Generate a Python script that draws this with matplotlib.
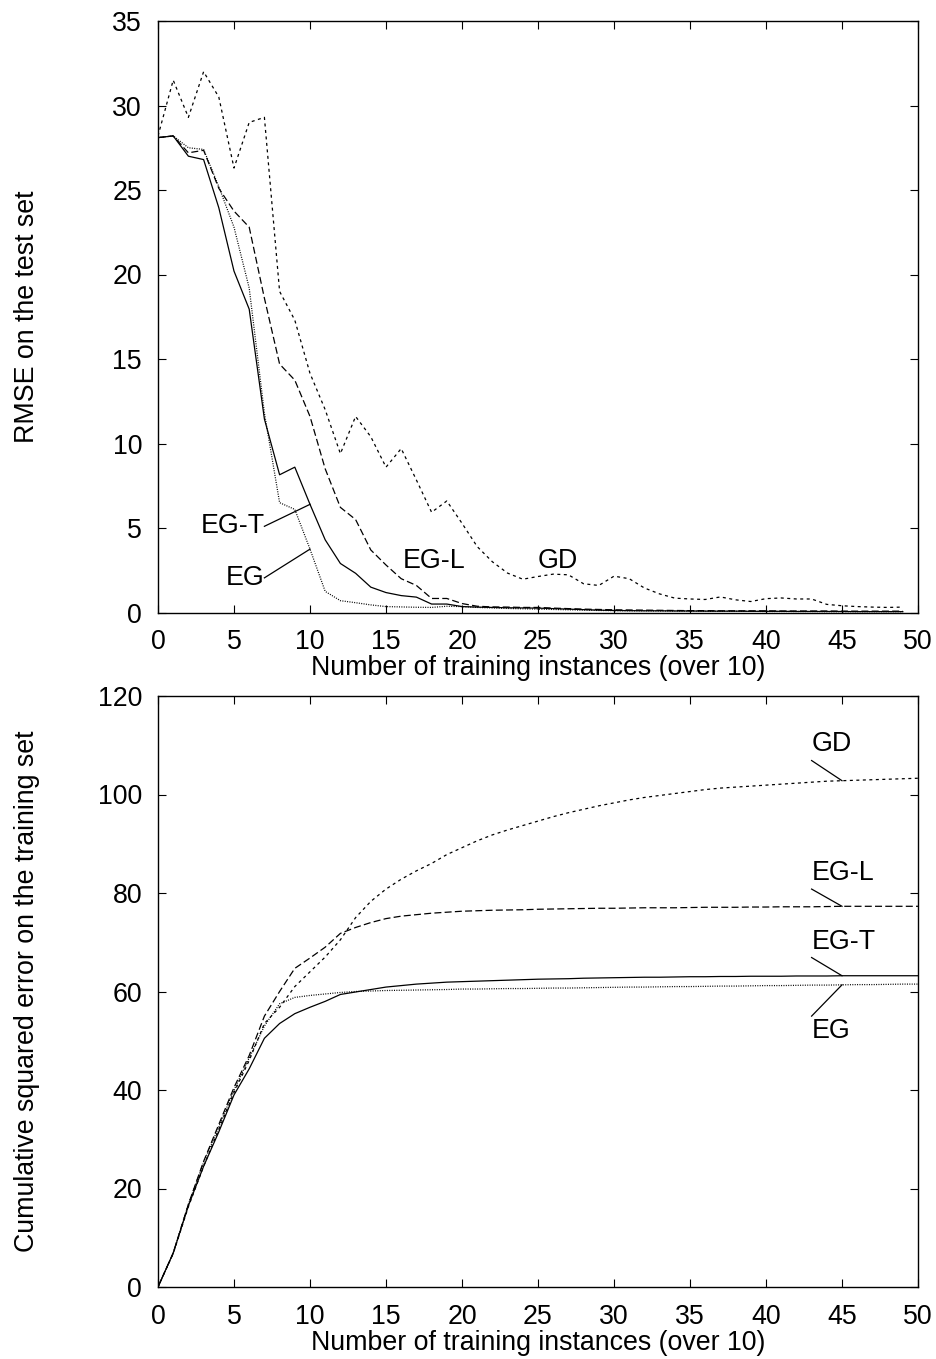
import numpy as np
import matplotlib.pyplot as plt

plt.rcParams['font.family'] = ['Liberation Sans', 'DejaVu Sans']

# top panel: RMSE on the test set, x = 0..49
x_top = np.arange(50)
rmse_egt = [28.1, 28.2, 27.0, 26.8, 23.95, 20.2, 17.95, 11.45, 8.15, 8.6,
            6.4, 4.3, 2.9, 2.32, 1.5, 1.18, 1.0, 0.91, 0.5, 0.5,
            0.35, 0.32, 0.3, 0.28, 0.27, 0.26, 0.23, 0.2, 0.17, 0.14,
            0.12, 0.11, 0.1, 0.1, 0.09, 0.09, 0.08, 0.08, 0.08, 0.07,
            0.07, 0.07, 0.06, 0.06, 0.06, 0.06, 0.05, 0.05, 0.05, 0.05]
rmse_eg = [28.1, 28.2, 27.5, 27.4, 25.2, 22.8, 19.2, 11.8, 6.5, 6.1,
           3.75, 1.25, 0.7, 0.58, 0.45, 0.35, 0.33, 0.31, 0.3, 0.37,
           0.35, 0.3, 0.27, 0.24, 0.22, 0.2, 0.18, 0.16, 0.14, 0.12,
           0.11, 0.1, 0.1, 0.09, 0.09, 0.08, 0.08, 0.07, 0.07, 0.07,
           0.06, 0.06, 0.06, 0.06, 0.05, 0.05, 0.05, 0.05, 0.05, 0.05]
rmse_egl = [28.1, 28.2, 27.2, 27.35, 25.1, 23.75, 22.8, 18.6, 14.7, 13.75,
            11.6, 8.5, 6.22, 5.5, 3.7, 2.81, 2.0, 1.6, 0.83, 0.83,
            0.53, 0.37, 0.33, 0.32, 0.3, 0.3, 0.26, 0.23, 0.2, 0.18,
            0.16, 0.15, 0.14, 0.13, 0.12, 0.11, 0.11, 0.1, 0.1, 0.1,
            0.1, 0.09, 0.09, 0.09, 0.09, 0.08, 0.08, 0.08, 0.08, 0.08]
rmse_gd = [28.2, 31.5, 29.3, 32.0, 30.5, 26.3, 29.0, 29.3, 19.0, 17.3,
           14.15, 12.0, 9.4, 11.6, 10.4, 8.6, 9.7, 7.84, 5.93, 6.6,
           5.28, 3.9, 3.0, 2.33, 1.97, 2.13, 2.27, 2.23, 1.7, 1.6,
           2.15, 2.0, 1.45, 1.1, 0.85, 0.8, 0.77, 0.92, 0.75, 0.65,
           0.82, 0.86, 0.8, 0.8, 0.48, 0.4, 0.35, 0.32, 0.3, 0.32]

# bottom panel: cumulative squared error on the training set, x = 0..50
x_bot = np.arange(51)
cum_egt = [0, 6.9, 16.5, 24.5, 31.5, 39.0, 44.3, 50.5, 53.5, 55.5,
           56.8, 58.0, 59.4, 59.9, 60.4, 60.9, 61.2, 61.5, 61.7, 61.9,
           62.0, 62.1, 62.2, 62.3, 62.4, 62.5, 62.55, 62.6, 62.7, 62.75,
           62.8, 62.85, 62.9, 62.9, 62.95, 63.0, 63.0, 63.05, 63.05, 63.1,
           63.1, 63.1, 63.15, 63.15, 63.15, 63.2, 63.2, 63.2, 63.2, 63.2, 63.2]
cum_eg = [0, 6.9, 16.8, 25.3, 32.5, 40.0, 46.5, 53.0, 57.5, 58.8,
          59.2, 59.5, 59.8, 60.0, 60.1, 60.2, 60.25, 60.3, 60.35, 60.4,
          60.5, 60.5, 60.55, 60.6, 60.6, 60.65, 60.7, 60.7, 60.75, 60.8,
          60.85, 60.9, 60.9, 60.95, 61.0, 61.0, 61.05, 61.1, 61.1, 61.15,
          61.2, 61.2, 61.25, 61.3, 61.3, 61.35, 61.4, 61.4, 61.45, 61.5, 61.5]
cum_egl = [0, 6.9, 16.8, 25.5, 33.0, 40.5, 47.0, 55.0, 60.0, 64.7,
           66.8, 69.0, 71.8, 73.0, 74.0, 74.8, 75.3, 75.6, 75.9, 76.1,
           76.3, 76.4, 76.5, 76.55, 76.6, 76.7, 76.75, 76.8, 76.85, 76.9,
           76.9, 76.95, 77.0, 77.0, 77.0, 77.05, 77.1, 77.1, 77.1, 77.15,
           77.15, 77.2, 77.2, 77.2, 77.25, 77.3, 77.3, 77.3, 77.3, 77.3, 77.3]
cum_gd = [0, 6.8, 16.3, 24.5, 32.0, 39.5, 46.0, 53.5, 56.8, 61.0,
          64.0, 67.0, 70.5, 75.0, 78.3, 80.8, 82.8, 84.5, 86.0, 87.8,
          89.2, 90.6, 91.8, 92.8, 93.7, 94.6, 95.5, 96.3, 97.0, 97.7,
          98.3, 98.9, 99.4, 99.8, 100.2, 100.6, 101.0, 101.3, 101.5, 101.7,
          101.9, 102.1, 102.3, 102.5, 102.7, 102.8, 102.9, 103.0, 103.1, 103.2, 103.3]

# label text positions and leader start points (data coords)
top_labels = ['EG-T', 'EG', 'EG-L', 'GD']
top_label_x = [7.0, 7.0, 16.1, 25.0]
top_label_y = [5.1, 2.05, 3.07, 3.07]
bot_labels = ['GD', 'EG-L', 'EG-T', 'EG']
bot_label_y = [110.3, 84.1, 70.0, 52.0]
bot_leader_y = [106.9, 80.8, 66.9, 55.0]

fs = 19.3
lw = 0.9
styles = {
    'EG-T': dict(linestyle='-'),
    'EG': dict(linestyle=(0, (0.8, 1.1))),
    'EG-L': dict(linestyle=(0, (5.6, 2.6))),
    'GD': dict(linestyle=(0, (2.4, 2.8))),
}

fig = plt.figure(figsize=(9.37, 13.59), dpi=100)
ax1 = fig.add_axes([158/937, 1-612.5/1359, 760/937, (612.5-21)/1359])
ax2 = fig.add_axes([158/937, 1-1287/1359, 760/937, (1287-696)/1359])

top_series = {'EG-T': rmse_egt, 'EG': rmse_eg, 'EG-L': rmse_egl, 'GD': rmse_gd}
bot_series = {'EG-T': cum_egt, 'EG': cum_eg, 'EG-L': cum_egl, 'GD': cum_gd}

for name, vals in top_series.items():
    ax1.plot(x_top, vals, color='black', lw=lw, **styles[name])
for name, vals in bot_series.items():
    ax2.plot(x_bot, vals, color='black', lw=lw, **styles[name])

# top labels
ax1.text(top_label_x[0], top_label_y[0], top_labels[0], ha='right', va='center', fontsize=fs)
ax1.plot([top_label_x[0], 10], [top_label_y[0], rmse_egt[10]], color='black', lw=lw)
ax1.text(top_label_x[1], top_label_y[1], top_labels[1], ha='right', va='center', fontsize=fs)
ax1.plot([top_label_x[1], 10], [top_label_y[1], rmse_eg[10]], color='black', lw=lw)
ax1.text(top_label_x[2], top_label_y[2], top_labels[2], ha='left', va='center', fontsize=fs)
ax1.text(top_label_x[3], top_label_y[3], top_labels[3], ha='left', va='center', fontsize=fs)

# bottom labels
for lab, ty, ly in zip(bot_labels, bot_label_y, bot_leader_y):
    ax2.text(43, ty, lab, ha='left', va='center', fontsize=fs)
    ax2.plot([43, 45], [ly, bot_series[lab][45]], color='black', lw=lw)

ax1.set_xlim(0, 50)
ax1.set_ylim(0, 35)
ax1.set_xticks(range(0, 51, 5))
ax1.set_yticks(range(0, 36, 5))
ax1.set_ylabel('RMSE on the test set', fontsize=fs)

ax2.set_xlim(0, 50)
ax2.set_ylim(0, 120)
ax2.set_xticks(range(0, 51, 5))
ax2.set_yticks(range(0, 121, 20))
ax2.set_ylabel('Cumulative squared error on the training set', fontsize=fs)

for ax in (ax1, ax2):
    ax.set_xlabel('Number of training instances (over 10)', fontsize=fs)
    ax.xaxis.set_label_coords(0.5, -0.072)
    ax.yaxis.set_label_coords(-0.155, 0.5)
    ax.tick_params(direction='in', length=5.5, width=0.8, top=True, right=True,
                   labelsize=fs)
    ax.tick_params(axis='x', pad=12)
    ax.tick_params(axis='y', pad=11.5)
    for s in ax.spines.values():
        s.set_linewidth(1.0)

fig.savefig('out.png', dpi=100)
